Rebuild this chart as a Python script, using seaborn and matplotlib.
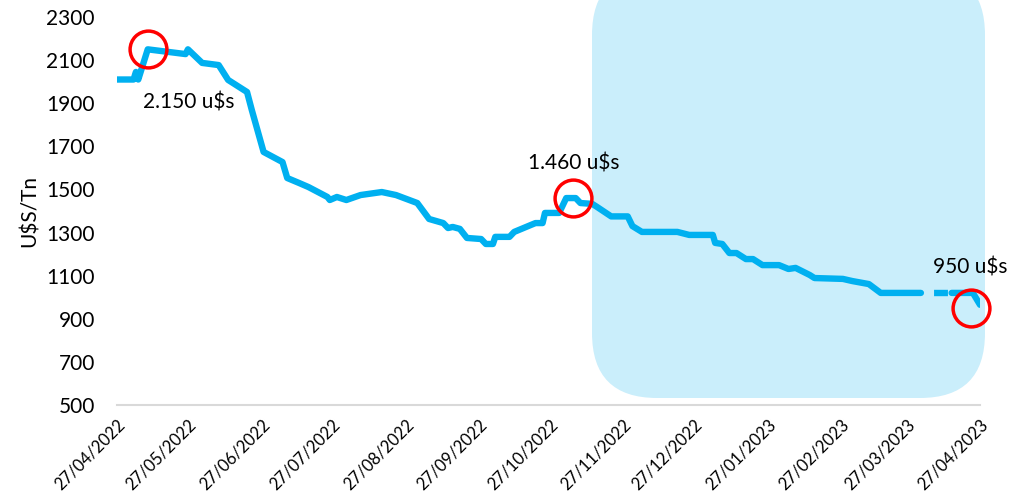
import pandas as pd
import matplotlib
matplotlib.use("Agg")
import matplotlib.pyplot as plt
import matplotlib.dates as mdates
from matplotlib.patches import FancyBboxPatch
from matplotlib.transforms import IdentityTransform
import seaborn as sns

# precio (u$s/Tn)
dates = ["2022-04-27", "2022-05-04", "2022-05-05", "2022-05-06", "2022-05-10",
         "2022-05-26", "2022-05-27", "2022-06-02", "2022-06-09", "2022-06-13",
         "2022-06-21", "2022-06-23", "2022-06-28", "2022-07-06", "2022-07-08",
         "2022-07-13", "2022-07-17", "2022-07-25", "2022-07-26", "2022-07-29",
         "2022-08-02", "2022-08-08", "2022-08-17", "2022-08-23", "2022-09-01",
         "2022-09-06", "2022-09-12", "2022-09-14", "2022-09-16", "2022-09-19",
         "2022-09-22", "2022-09-28", "2022-09-30", "2022-10-03", "2022-10-04",
         "2022-10-10", "2022-10-12", "2022-10-19", "2022-10-21", "2022-10-24",
         "2022-10-25", "2022-10-31", "2022-11-03", "2022-11-07", "2022-11-09",
         "2022-11-14", "2022-11-16", "2022-11-22", "2022-11-29", "2022-12-01",
         "2022-12-05", "2022-12-20", "2022-12-25", "2023-01-04", "2023-01-05",
         "2023-01-08", "2023-01-11", "2023-01-14", "2023-01-18", "2023-01-21",
         "2023-01-25", "2023-02-01", "2023-02-05", "2023-02-08", "2023-02-14",
         "2023-02-16", "2023-02-28", "2023-03-04", "2023-03-11", "2023-03-16",
         "2023-04-02", "2023-04-15", "2023-04-24", "2023-04-27"]
prices = [2010, 2010, 2045, 2010, 2150,
          2128, 2150, 2087, 2077, 2008,
          1952, 1869, 1674, 1627, 1553,
          1530, 1511, 1465, 1451, 1465,
          1451, 1474, 1488, 1474, 1437,
          1363, 1344, 1321, 1326, 1317,
          1275, 1270, 1247, 1247, 1280,
          1280, 1303, 1335, 1344, 1344,
          1391, 1391, 1460, 1460, 1437,
          1433, 1419, 1375, 1375, 1330,
          1303, 1303, 1289, 1289, 1252,
          1247, 1205, 1205, 1177, 1177,
          1149, 1149, 1131, 1136, 1103,
          1089, 1085, 1075, 1061, 1020,
          1020, 1020, 1020, 965]
gap_start = "2023-04-02"
gap_end = "2023-04-15"

peak_dates = ["2022-05-10", "2022-11-06", "2023-04-23"]
peak_prices = [2150, 1460, 950]
peak_labels = ["2.150 u$s", "1.460 u$s", "950 u$s"]

tick_dates = pd.date_range("2022-04-27", periods=13, freq=pd.DateOffset(months=1))

blue = "#00B0F0"

sns.set_style("white")
plt.rcParams['font.family'] = ['Lato', 'DejaVu Sans']
plt.rcParams['lines.scale_dashes'] = False

fig = plt.figure(figsize=(10.09, 4.95), dpi=100)
ax = fig.add_axes([117 / 1009, 90 / 495, 863 / 1009, 388 / 495])

df = pd.DataFrame({"fecha": pd.to_datetime(dates), "precio": prices})
before = df[df.fecha <= gap_start]
after = df[df.fecha >= gap_end]
gap = df[(df.fecha >= gap_start) & (df.fecha <= gap_end)]

# zona sombreada (proyeccion)
box = FancyBboxPatch((592, 97), 393, 428, boxstyle="round,pad=0,rounding_size=65",
                     transform=IdentityTransform(), fc="#CAEEFB", ec="none",
                     zorder=0, clip_on=False)
ax.add_patch(box)

for part in (before, after):
    sns.lineplot(data=part, x="fecha", y="precio", ax=ax, color=blue, lw=4.6,
                 zorder=3, solid_joinstyle="round")
ax.plot(gap.fecha, gap.precio, color=blue, lw=4.6, linestyle=(10, (10, 9.4)), zorder=3)

# circulos rojos + etiquetas
pk = pd.to_datetime(peak_dates)
ax.plot(pk, peak_prices, "o", ms=26.5, mfc="none", mec="#FF0000", mew=2.5, zorder=4, clip_on=False)
offsets = [(41, -53), (0, 35), (0, 40)]
for d, p, lab, off in zip(pk, peak_prices, peak_labels, offsets):
    ax.annotate(lab, xy=(d, p), xytext=off, textcoords="offset pixels",
                ha="center", va="center", fontsize=15, color="black", zorder=5)

ax.set_xlim(tick_dates[0], tick_dates[-1])
ax.set_ylim(500, 2300)
ax.set_yticks(range(500, 2301, 200))
ax.set_xticks(tick_dates)
ax.xaxis.set_major_formatter(mdates.DateFormatter("%d/%m/%Y"))
plt.setp(ax.get_xticklabels(), rotation=45, ha="right", rotation_mode="anchor")

for s in ("left", "top", "right"):
    ax.spines[s].set_visible(False)
ax.spines["bottom"].set_color("#D9D9D9")
ax.spines["bottom"].set_linewidth(1.5)
ax.tick_params(axis="y", length=0, labelsize=15, pad=16, labelcolor="black")
ax.tick_params(axis="x", length=0, labelsize=12, pad=8, labelcolor="black")

ax.set_xlabel("")
ax.set_ylabel("U$S/Tn", fontsize=15, color="black")
ax.yaxis.set_label_coords(-0.089, 0.5)

fig.savefig("out.png", dpi=100)
